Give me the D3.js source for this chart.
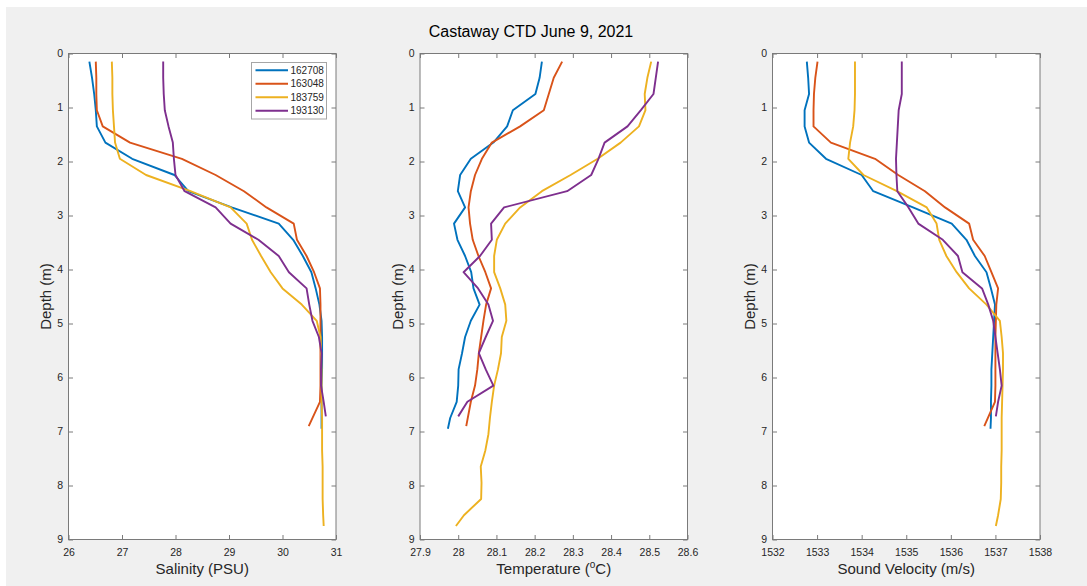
<!DOCTYPE html>
<html>
<head>
<meta charset="utf-8">
<script src="https://cdn.jsdelivr.net/npm/d3@7"></script>
<style>
  html, body { margin: 0; padding: 0; background: #fff; }
  svg { display: block; font-family: "Liberation Sans", Arial, sans-serif; }
</style>
</head>
<body>
<svg id="chart"></svg>
<script>
// cast ids + matlab default line colours
const CAST_IDS = ["162708", "163048", "183759", "193130"];
const COLORS = ["#0072BD", "#D95319", "#EDB120", "#7E2F8E"];

// depth (m) of each sample, per cast
const depth162708 = [0.15, 0.45, 0.75, 1.05, 1.35, 1.65, 1.95, 2.25, 2.55, 2.85, 3.15, 3.45, 3.75, 4.05, 4.35, 4.65, 4.95, 5.25, 5.55, 5.85, 6.15, 6.45, 6.75, 6.95];
const depth163048 = [0.15, 0.45, 0.75, 1.05, 1.35, 1.65, 1.95, 2.25, 2.55, 2.85, 3.15, 3.45, 3.75, 4.05, 4.35, 4.65, 4.95, 5.25, 5.55, 5.85, 6.15, 6.45, 6.9];
const depth183759 = [0.15, 0.45, 0.75, 1.05, 1.35, 1.65, 1.95, 2.25, 2.55, 2.85, 3.15, 3.45, 3.75, 4.05, 4.35, 4.65, 4.95, 5.25, 5.55, 5.85, 6.15, 6.45, 6.75, 7.05, 7.35, 7.65, 7.95, 8.25, 8.55, 8.75];
const depth193130 = [0.15, 0.45, 0.75, 1.05, 1.35, 1.65, 1.95, 2.25, 2.55, 2.85, 3.15, 3.45, 3.75, 4.05, 4.35, 4.65, 4.95, 5.25, 5.55, 5.85, 6.15, 6.45, 6.72];

// salinity (PSU)
const sal162708 = [26.39, 26.44, 26.48, 26.51, 26.53, 26.69, 27.19, 27.98, 28.24, 29.05, 29.93, 30.20, 30.38, 30.54, 30.62, 30.69, 30.73, 30.74, 30.74, 30.74, 30.73, 30.73, 30.73, 30.73];
const sal163048 = [26.51, 26.52, 26.52, 26.53, 26.64, 27.15, 28.12, 28.75, 29.28, 29.70, 30.21, 30.27, 30.45, 30.59, 30.70, 30.71, 30.71, 30.71, 30.71, 30.71, 30.71, 30.70, 30.49];
const sal183759 = [26.81, 26.82, 26.82, 26.83, 26.85, 26.87, 26.96, 27.45, 28.28, 29.03, 29.33, 29.43, 29.60, 29.78, 30.00, 30.36, 30.64, 30.71, 30.72, 30.73, 30.73, 30.73, 30.74, 30.74, 30.74, 30.75, 30.75, 30.75, 30.76, 30.77];
const sal193130 = [27.77, 27.77, 27.78, 27.80, 27.87, 27.95, 27.97, 28.00, 28.17, 28.75, 29.03, 29.55, 29.93, 30.12, 30.45, 30.50, 30.56, 30.68, 30.73, 30.72, 30.72, 30.77, 30.81];

// temperature (degC)
const temp162708 = [28.219, 28.213, 28.202, 28.143, 28.128, 28.092, 28.033, 28.005, 27.999, 28.018, 27.989, 27.998, 28.018, 28.034, 28.040, 28.056, 28.033, 28.018, 28.010, 28.001, 28.000, 27.996, 27.979, 27.973];
const temp163048 = [28.272, 28.250, 28.237, 28.224, 28.162, 28.088, 28.062, 28.044, 28.033, 28.027, 28.031, 28.038, 28.053, 28.071, 28.086, 28.073, 28.066, 28.060, 28.054, 28.050, 28.044, 28.033, 28.021];
const temp183759 = [28.505, 28.495, 28.488, 28.490, 28.473, 28.425, 28.365, 28.294, 28.219, 28.162, 28.123, 28.101, 28.094, 28.094, 28.110, 28.123, 28.126, 28.114, 28.112, 28.104, 28.094, 28.088, 28.083, 28.079, 28.071, 28.059, 28.061, 28.060, 28.015, 27.994];
const temp193130 = [28.523, 28.517, 28.511, 28.478, 28.443, 28.383, 28.367, 28.348, 28.285, 28.120, 28.086, 28.088, 28.057, 28.014, 28.052, 28.079, 28.091, 28.072, 28.054, 28.072, 28.092, 28.024, 28.000];

// sound velocity (m/s)
const sv162708 = [1532.77, 1532.80, 1532.82, 1532.72, 1532.72, 1532.82, 1533.20, 1534.00, 1534.26, 1535.15, 1536.02, 1536.35, 1536.54, 1536.80, 1536.90, 1536.99, 1536.97, 1536.95, 1536.93, 1536.91, 1536.91, 1536.90, 1536.90, 1536.89];
const sv163048 = [1533.01, 1532.96, 1532.93, 1532.92, 1532.92, 1533.31, 1534.30, 1534.82, 1535.42, 1535.87, 1536.41, 1536.50, 1536.76, 1536.91, 1537.06, 1537.02, 1537.01, 1537.00, 1537.00, 1537.00, 1537.00, 1536.99, 1536.75];
const sv183759 = [1533.85, 1533.85, 1533.85, 1533.84, 1533.81, 1533.74, 1533.70, 1534.04, 1534.79, 1535.46, 1535.68, 1535.74, 1535.90, 1536.13, 1536.41, 1536.80, 1537.10, 1537.14, 1537.17, 1537.17, 1537.16, 1537.15, 1537.14, 1537.14, 1537.14, 1537.13, 1537.13, 1537.12, 1537.06, 1537.01];
const sv193130 = [1534.90, 1534.90, 1534.90, 1534.83, 1534.81, 1534.79, 1534.77, 1534.78, 1534.80, 1535.05, 1535.27, 1535.82, 1536.16, 1536.26, 1536.70, 1536.84, 1536.95, 1537.00, 1537.05, 1537.10, 1537.14, 1537.06, 1537.01];

// tick values
const depthTicks = [0, 1, 2, 3, 4, 5, 6, 7, 8, 9];
const salTicks = [26, 27, 28, 29, 30, 31];
const tempTicks = [27.9, 28, 28.1, 28.2, 28.3, 28.4, 28.5, 28.6];
const svTicks = [1532, 1533, 1534, 1535, 1536, 1537, 1538];

const casts = [
  { id: CAST_IDS[0], color: COLORS[0], depth: depth162708, sal: sal162708, temp: temp162708, sv: sv162708 },
  { id: CAST_IDS[1], color: COLORS[1], depth: depth163048, sal: sal163048, temp: temp163048, sv: sv163048 },
  { id: CAST_IDS[2], color: COLORS[2], depth: depth183759, sal: sal183759, temp: temp183759, sv: sv183759 },
  { id: CAST_IDS[3], color: COLORS[3], depth: depth193130, sal: sal193130, temp: temp193130, sv: sv193130 },
];

const W = 1087, H = 586;
const TOP = 53.5, BOTTOM = 539.5, PW = 267.5;
const AXIS_COL = "#7a7a7a", TEXT_COL = "#262626";

const panels = [
  { key: "sal",  left: 68.5,  domain: [26, 31],      ticks: salTicks,  label: "Salinity (PSU)" },
  { key: "temp", left: 420,   domain: [27.9, 28.6],  ticks: tempTicks, label: "Temperature" },
  { key: "sv",   left: 772.5, domain: [1532, 1538],  ticks: svTicks,   label: "Sound Velocity (m/s)" },
];

const svg = d3.select("#chart").attr("width", W).attr("height", H);

// matlab figure: gray canvas, thin white strip top/left
svg.append("rect").attr("x", 0).attr("y", 0).attr("width", W).attr("height", H).attr("fill", "#fff");
svg.append("rect").attr("x", 6).attr("y", 7).attr("width", W - 6).attr("height", H - 7).attr("fill", "#f0f0f0");

svg.append("text")
  .attr("x", 531).attr("y", 37)
  .attr("text-anchor", "middle")
  .attr("font-size", "16px")
  .attr("fill", "#000")
  .text("Castaway CTD June 9, 2021");

const yScale = d3.scaleLinear().domain([0, 9]).range([TOP, BOTTOM]);

panels.forEach((p, pi) => {
  const x = d3.scaleLinear().domain(p.domain).range([p.left, p.left + PW]);
  const g = svg.append("g").attr("class", "panel " + p.key);

  g.append("rect")
    .attr("x", p.left).attr("y", TOP)
    .attr("width", PW).attr("height", BOTTOM - TOP)
    .attr("fill", "#fff");

  const style = sel => {
    sel.select(".domain").remove();
    sel.selectAll(".tick line").attr("stroke", AXIS_COL);
    sel.selectAll(".tick text").attr("fill", TEXT_COL).attr("font-size", "10.5px")
      .attr("font-family", "'Liberation Sans', Arial, sans-serif");
  };

  // bottom + left with labels, ticks pointing inward
  g.append("g").attr("transform", `translate(0,${BOTTOM})`)
    .call(d3.axisBottom(x).tickValues(p.ticks).tickFormat(d => String(d)).tickSizeInner(-4.5).tickSizeOuter(0).tickPadding(9.5))
    .call(style);
  g.append("g").attr("transform", `translate(${p.left},0)`)
    .call(d3.axisLeft(yScale).tickValues(depthTicks).tickFormat(d => String(d)).tickSizeInner(-4.5).tickSizeOuter(0).tickPadding(5.5))
    .call(style);
  // mirrored ticks on top + right
  g.append("g").attr("transform", `translate(0,${TOP})`)
    .call(d3.axisTop(x).tickValues(p.ticks).tickFormat("").tickSizeInner(-4.5).tickSizeOuter(0))
    .call(style);
  g.append("g").attr("transform", `translate(${p.left + PW},0)`)
    .call(d3.axisRight(yScale).tickValues(depthTicks).tickFormat("").tickSizeInner(-4.5).tickSizeOuter(0))
    .call(style);

  const line = d3.line()
    .x(d => x(d[0]))
    .y(d => yScale(d[1]));

  g.selectAll("path.cast")
    .data(casts)
    .join("path")
      .attr("class", "cast")
      .attr("d", c => line(c[p.key].map((v, i) => [v, c.depth[i]])))
      .attr("fill", "none")
      .attr("stroke", c => c.color)
      .attr("stroke-width", 1.9)
      .attr("stroke-linejoin", "round");

  g.append("rect")
    .attr("x", p.left).attr("y", TOP)
    .attr("width", PW).attr("height", BOTTOM - TOP)
    .attr("fill", "none").attr("stroke", AXIS_COL).attr("stroke-width", 1);

  // axis labels
  const xl = g.append("text")
    .attr("x", p.left + PW / 2).attr("y", 574)
    .attr("text-anchor", "middle")
    .attr("font-size", "15px")
    .attr("fill", TEXT_COL)
    .text(p.label);
  if (p.key === "temp") {
    xl.append("tspan").text(" (");
    xl.append("tspan").attr("dy", -6).attr("font-size", "10px").text("o");
    xl.append("tspan").attr("dy", 6).text("C)");
  }

  g.append("text")
    .attr("transform", `translate(${p.left - 17.5},${(TOP + BOTTOM) / 2}) rotate(-90)`)
    .attr("text-anchor", "middle")
    .attr("font-size", "15px")
    .attr("fill", TEXT_COL)
    .text("Depth (m)");

  // legend lives in first panel only
  if (pi === 0) {
    const lg = g.append("g").attr("class", "legend");
    lg.append("rect")
      .attr("x", 251.5).attr("y", 62.5)
      .attr("width", 75).attr("height", 56.5)
      .attr("fill", "#fff").attr("stroke", "#a6a6a6").attr("stroke-width", 1);
    casts.forEach((c, i) => {
      const ry = 70.3 + i * 13.5;
      lg.append("line")
        .attr("x1", 255.5).attr("x2", 288).attr("y1", ry).attr("y2", ry)
        .attr("stroke", c.color).attr("stroke-width", 1.9);
      lg.append("text")
        .attr("x", 290.5).attr("y", ry).attr("dy", "0.36em")
        .attr("font-size", "10px").attr("fill", TEXT_COL)
        .text(c.id);
    });
  }
});
</script>
</body>
</html>
